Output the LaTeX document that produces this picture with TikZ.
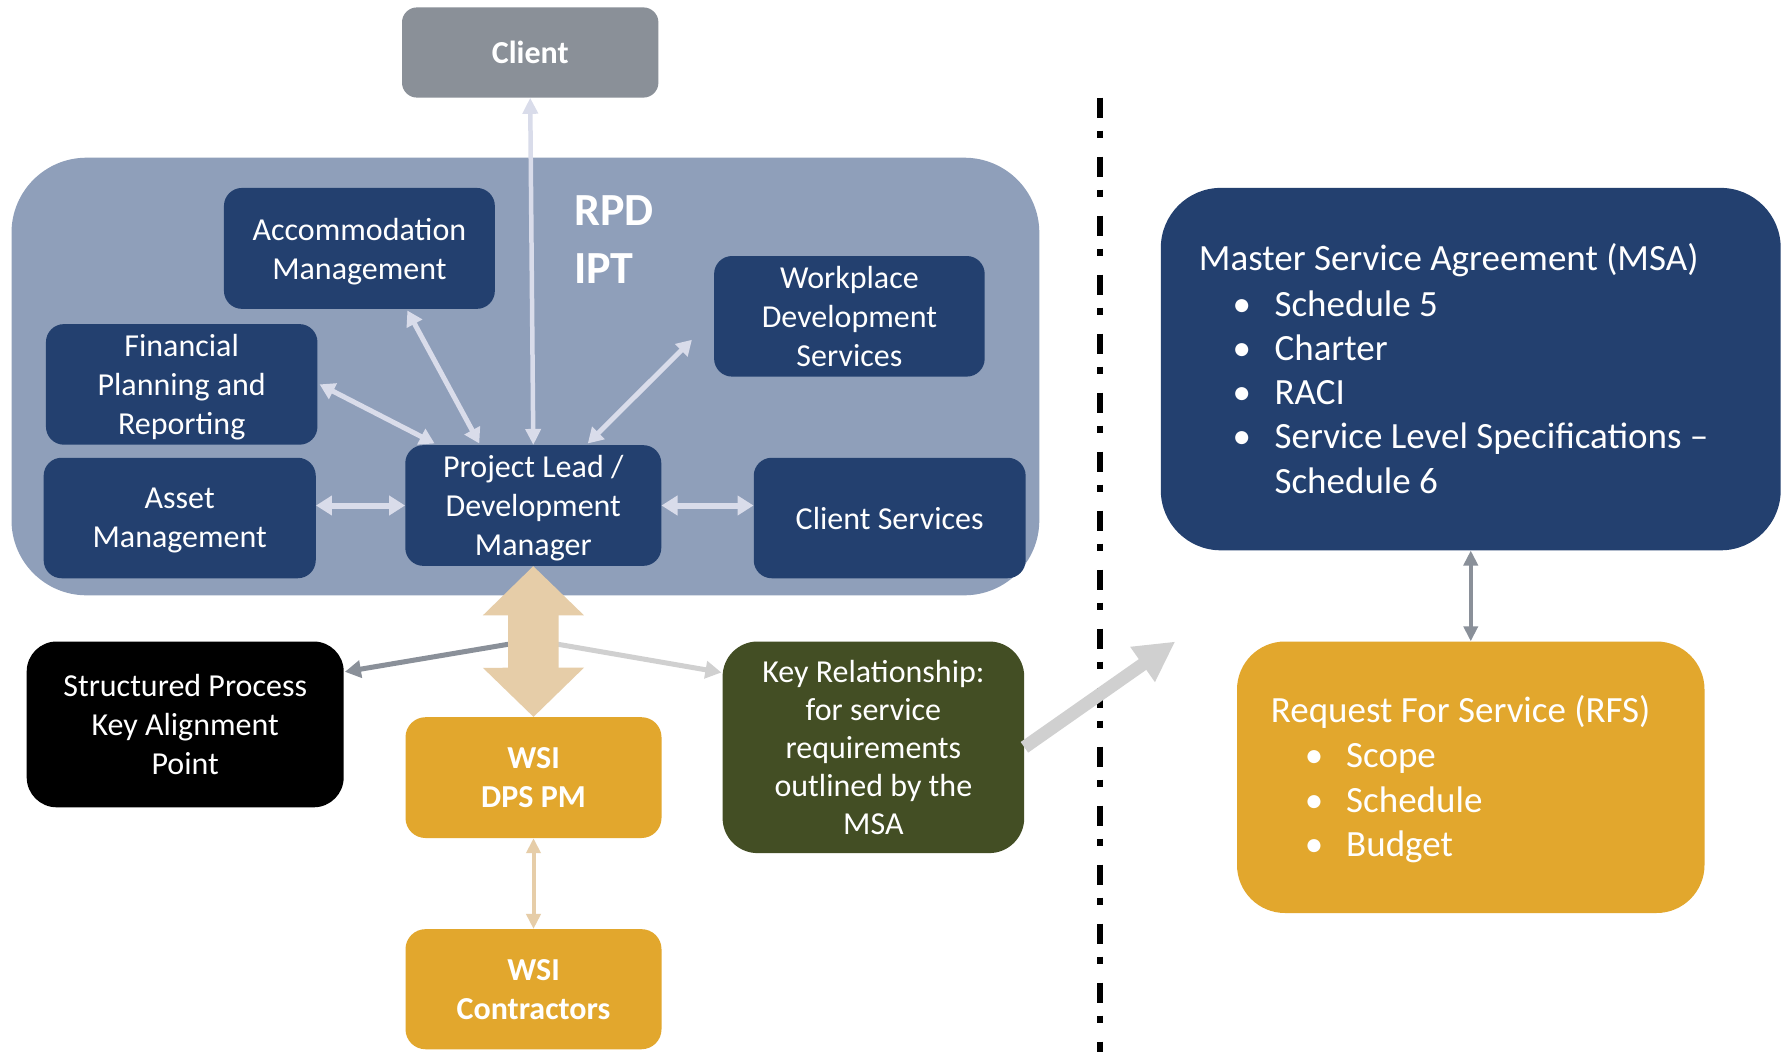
\documentclass[tikz,border=0pt]{standalone}
\usepackage{fontspec}
\setmainfont{Carlito}
\usetikzlibrary{arrows.meta,calc}
\definecolor{navy}{HTML}{23406F}
\definecolor{iptbg}{HTML}{8F9FBA}
\definecolor{clientgray}{HTML}{8A9098}
\definecolor{gold}{HTML}{E2A72D}
\definecolor{olive}{HTML}{434E24}
\definecolor{beige}{HTML}{E6CDA8}
\definecolor{lavender}{HTML}{D9DCEA}
\definecolor{lightgray}{HTML}{D0D0D0}
\definecolor{darkgray}{HTML}{8A9099}
\tikzset{
  box/.style={rectangle, rounded corners=18pt, inner sep=0pt, align=center, text=white,
    text depth=0pt, font=\fontsize{32}{39}\selectfont},
  bigtext/.style={inner sep=0pt, text=white, font=\fontsize{37}{45}\selectfont},
  lavarrow/.style={draw=lavender, line width=6pt, {Triangle[length=16pt,width=19pt]}-{Triangle[length=16pt,width=19pt]}},
  lavdiag/.style={draw=lavender, line width=5pt, {Triangle[length=15pt,width=17pt]}-{Triangle[length=15pt,width=17pt]}},
  thinlav/.style={draw=lavender, line width=4.5pt, {Triangle[length=16pt,width=15pt]}-{Triangle[length=16pt,width=15pt]}},
  sidearrow/.style={line width=5pt, -{Triangle[length=16pt,width=17pt]}},
  grayarrow/.style={draw=darkgray, line width=4pt, {Triangle[length=15pt,width=14pt]}-{Triangle[length=15pt,width=14pt]}},
  beigethin/.style={draw=beige, line width=4pt, {Triangle[length=15pt,width=14pt]}-{Triangle[length=15pt,width=14pt]}},
  beigefat/.style={draw=beige, line width=50.6pt, {Triangle[length=49.3pt,width=98.2pt]}-{Triangle[length=49.3pt,width=98.2pt]}},
  bigarrow/.style={draw=lightgray, line width=13pt, -{Triangle[length=40pt,width=40pt]}},
  divider/.style={draw=black, line width=6pt, dash pattern=on 20pt off 13pt on 7pt off 19pt}
}
\begin{document}
\begin{tikzpicture}[x=1pt,y=-1pt]
\useasboundingbox (0,0) rectangle (1783,1052);
\fill[white] (0,0) rectangle (1783,1052);

% containers
\node[box, rounded corners=75pt, fill=iptbg, minimum width=1027.8pt, minimum height=437.6pt] (ipt) at (525.4,376.5) {};
\node[box, rounded corners=15pt, fill=clientgray, minimum width=256.4pt, minimum height=90.2pt, font=\fontsize{32}{39}\selectfont\bfseries] (client) at (530.2,52.5) {Client};

\node[anchor=base west, inner sep=0pt, align=left, text=white, font=\fontsize{46}{57.4}\selectfont\bfseries] (rpd) at (574,283.2) {RPD\\IPT};

% IPT boxes
\node[box, fill=navy, minimum width=270.9pt, minimum height=120.9pt] (acc) at (359.4,248.4) {Accommodation\\Management};
\node[box, fill=navy, minimum width=271.5pt, minimum height=120.6pt] (fin) at (181.7,384.4) {Financial\\Planning and\\Reporting};
\node[box, fill=navy, minimum width=272.1pt, minimum height=120.5pt] (asset) at (179.7,518) {Asset\\Management};
\node[box, fill=navy, minimum width=256pt, minimum height=120.7pt] (pl) at (533.3,505.5) {Project Lead /\\Development\\Manager};
\node[box, fill=navy, minimum width=270.6pt, minimum height=120.6pt] (wds) at (849.4,316.3) {Workplace\\Development\\Services};
\node[box, fill=navy, minimum width=271.9pt, minimum height=120.5pt] (cs) at (889.7,518) {Client Services};

% lower boxes
\node[box, rounded corners=30pt, fill=black, minimum width=317pt, minimum height=165.8pt] (struct) at (185.2,724.4) {Structured Process\\Key Alignment\\Point};
\node[box, rounded corners=20pt, fill=gold, minimum width=256pt, minimum height=120.8pt, font=\fontsize{32}{39}\selectfont\bfseries] (wsi) at (533.5,777.6) {WSI\\DPS PM};
\node[box, rounded corners=20pt, fill=gold, minimum width=256pt, minimum height=120.1pt, font=\fontsize{32}{39}\selectfont\bfseries] (wsic) at (533.5,989.2) {WSI\\Contractors};
\node[box, rounded corners=35pt, fill=olive, minimum width=301.6pt, minimum height=211.6pt, font=\fontsize{32}{38.1}\selectfont] (key) at (873.4,747.3) {Key Relationship:\\for service\\requirements\\outlined by the\\MSA};

% right side
\node[box, rounded corners=60pt, fill=navy, minimum width=619.9pt, minimum height=362.4pt] (msa) at (1470.75,369.1) {};
\node[box, rounded corners=48pt, fill=gold, minimum width=467.5pt, minimum height=271.5pt] (rfs) at (1470.75,777.25) {};

\node[bigtext, anchor=base west] (msat) at (1198.7,270.5) {Master Service Agreement (MSA)};
\node[bigtext, anchor=base] (msab1) at (1241.7,316.2) {•};
\node[bigtext, anchor=base west] (msa1) at (1274.4,316.2) {Schedule 5};
\node[bigtext, anchor=base] (msab2) at (1241.7,360.3) {•};
\node[bigtext, anchor=base west] (msa2) at (1274.4,360.3) {Charter};
\node[bigtext, anchor=base] (msab3) at (1241.7,404.4) {•};
\node[bigtext, anchor=base west] (msa3) at (1274.4,404.4) {RACI};
\node[bigtext, anchor=base] (msab4) at (1241.7,448.5) {•};
\node[bigtext, anchor=base west] (msa4) at (1274.4,448.5) {Service Level Specifications –};
\node[bigtext, anchor=base west] (msa5) at (1274.4,493.4) {Schedule 6};

\node[bigtext, anchor=base west] (rfst) at (1270.7,722.8) {Request For Service (RFS)};
\node[bigtext, anchor=base] (rfsb1) at (1314.1,767.8) {•};
\node[bigtext, anchor=base west] (rfs1) at (1346,767.8) {Scope};
\node[bigtext, anchor=base] (rfsb2) at (1314.1,812.2) {•};
\node[bigtext, anchor=base west] (rfs2) at (1346,812.2) {Schedule};
\node[bigtext, anchor=base] (rfsb3) at (1314.1,856.8) {•};
\node[bigtext, anchor=base west] (rfs3) at (1346,856.8) {Budget};

% divider
\coordinate (divtop) at (1099.5,97.6);
\coordinate (divbot) at (1099.5,1052);
\draw[divider] (divtop) -- (divbot);

% connectors inside IPT
\draw[thinlav] (client.south) -- (pl.north);
\draw[lavdiag] ($(acc.south)+(48,1.5)$) -- ($(pl.north)+(-54,-1.5)$);
\draw[lavdiag] ($(fin.east)+(2,0)$) -- ($(pl.north)+(-98.7,-1.5)$);
\draw[lavdiag] ($(wds.south west)+(-22,-37)$) -- ($(pl.north)+(54.5,-1.5)$);
\draw[lavarrow] (asset.east |- pl.west) -- (pl.west);
\draw[lavarrow] (pl.east) -- (pl.east -| cs.west);

% lower connectors
\coordinate (mid) at ($(pl.south)!0.49!(wsi.north)$);
\draw[sidearrow, draw=darkgray] (mid) -- ($(struct.east)+(1,-52.6)$);
\draw[sidearrow, draw=lightgray] (mid) -- ($(key.west)+(-1,-74.8)$);
\draw[beigefat] (pl.south) -- (wsi.north);
\draw[beigethin] (wsi.south) -- (wsic.north);

\coordinate (bigtip) at (1175.3,641.5);
\draw[bigarrow] (key.east) -- (bigtip);

\draw[grayarrow] (msa.south) -- (rfs.north);
\end{tikzpicture}
\end{document}
